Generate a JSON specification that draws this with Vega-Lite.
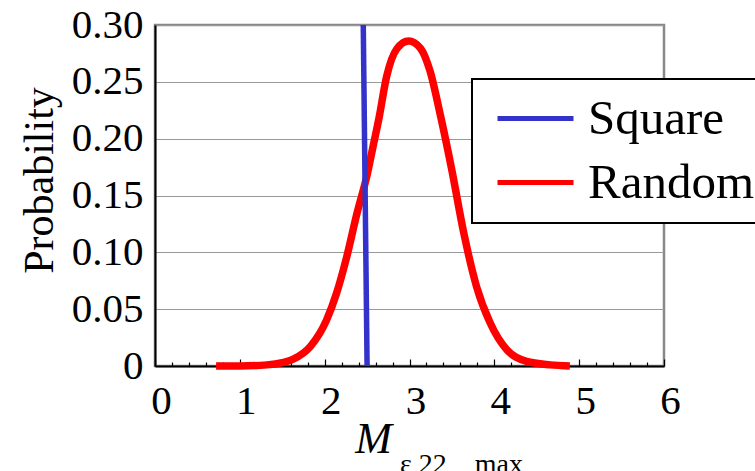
{
  "$schema": "https://vega.github.io/schema/vega-lite/v6.json",
  "width": 509,
  "height": 341,
  "autosize": {"type": "none"},
  "padding": {"left": 155, "top": 25, "right": 91, "bottom": 105},
  "background": "white",
  "title": {
    "text": "ε 22 _ max",
    "orient": "bottom",
    "anchor": "start",
    "frame": "group",
    "dx": 245,
    "offset": 12,
    "baseline": "alphabetic",
    "font": "Liberation Serif",
    "fontSize": 28,
    "fontWeight": "normal",
    "color": "black"
  },
  "data": {
    "values": [
      {"series": "Square", "x": 2.455, "p": 0.3},
      {"series": "Square", "x": 2.50, "p": 0.0},
      {"series": "Random", "x": 0.72, "p": 0.0},
      {"series": "Random", "x": 1.0, "p": 0.0},
      {"series": "Random", "x": 1.32, "p": 0.001},
      {"series": "Random", "x": 1.5, "p": 0.003},
      {"series": "Random", "x": 1.63, "p": 0.006},
      {"series": "Random", "x": 1.83, "p": 0.017},
      {"series": "Random", "x": 2.02, "p": 0.04},
      {"series": "Random", "x": 2.14, "p": 0.064},
      {"series": "Random", "x": 2.26, "p": 0.096},
      {"series": "Random", "x": 2.38, "p": 0.134},
      {"series": "Random", "x": 2.5, "p": 0.168},
      {"series": "Random", "x": 2.57, "p": 0.193},
      {"series": "Random", "x": 2.64, "p": 0.218},
      {"series": "Random", "x": 2.73, "p": 0.2545},
      {"series": "Random", "x": 2.85, "p": 0.279},
      {"series": "Random", "x": 2.99, "p": 0.286},
      {"series": "Random", "x": 3.13, "p": 0.2795},
      {"series": "Random", "x": 3.24, "p": 0.26},
      {"series": "Random", "x": 3.36, "p": 0.222},
      {"series": "Random", "x": 3.5, "p": 0.172},
      {"series": "Random", "x": 3.64, "p": 0.117},
      {"series": "Random", "x": 3.79, "p": 0.07},
      {"series": "Random", "x": 3.95, "p": 0.038},
      {"series": "Random", "x": 4.15, "p": 0.014},
      {"series": "Random", "x": 4.38, "p": 0.004},
      {"series": "Random", "x": 4.66, "p": 0.001},
      {"series": "Random", "x": 4.89, "p": 0.0}
    ]
  },
  "encoding": {
    "x": {
      "field": "x",
      "type": "quantitative",
      "scale": {"domain": [0, 6], "nice": false, "zero": false},
      "axis": {
        "title": "M",
        "titleFont": "Liberation Serif",
        "titleFontStyle": "italic",
        "titleFontWeight": "normal",
        "titleFontSize": 44,
        "titleColor": "black",
        "titleX": 218,
        "titleY": 86,
        "titleAlign": "center",
        "titleBaseline": "alphabetic",
        "values": [0, 0.2, 0.4, 0.6, 0.8, 1, 1.2, 1.4, 1.6, 1.8, 2, 2.2, 2.4, 2.6, 2.8, 3, 3.2, 3.4, 3.6, 3.8, 4, 4.2, 4.4, 4.6, 4.8, 5, 5.2, 5.4, 5.6, 5.8, 6],
        "labelExpr": "abs(datum.value - round(datum.value)) < 0.001 ? format(datum.value, 'd') : ''",
        "labelOverlap": false,
        "labelFont": "Liberation Serif",
        "labelFontSize": 41,
        "labelColor": "black",
        "labelPadding": 22,
        "labelOffset": 6,
        "labelFlush": false,
        "grid": false,
        "domainColor": "black",
        "domainWidth": 2,
        "tickColor": "black",
        "tickWidth": 1.2,
        "tickSize": {"condition": {"test": "abs(datum.value - round(datum.value)) < 0.001", "value": -7}, "value": -4}
      }
    },
    "y": {
      "field": "p",
      "type": "quantitative",
      "scale": {"domain": [0, 0.3], "nice": false},
      "axis": {
        "title": "Probability",
        "titleFont": "Liberation Serif",
        "titleFontWeight": "normal",
        "titleFontSize": 42,
        "titleColor": "black",
        "titleX": -116,
        "titleY": 155,
        "titleAngle": -90,
        "titleAlign": "center",
        "titleBaseline": "middle",
        "values": [0, 0.05, 0.1, 0.15, 0.2, 0.25, 0.3],
        "labelExpr": "datum.value === 0 ? '0' : format(datum.value, '.2f')",
        "labelFont": "Liberation Serif",
        "labelFontSize": 41,
        "labelColor": "black",
        "labelPadding": 12,
        "labelDy": -2,
        "labelFlush": false,
        "labelOverlap": false,
        "ticks": false,
        "grid": true,
        "gridColor": "#999999",
        "gridWidth": 1.2,
        "domainColor": "black",
        "domainWidth": 2
      }
    },
    "color": {
      "field": "series",
      "type": "nominal",
      "scale": {"domain": ["Square", "Random"], "range": ["#3333CC", "#FF0000"]},
      "legend": {
        "title": null,
        "orient": "none",
        "legendX": 317,
        "legendY": 54,
        "symbolType": "M-2,0H2",
        "symbolSize": 1444,
        "symbolStrokeWidth": 5,
        "symbolOffset": 24,
        "labelFont": "Liberation Serif",
        "labelFontSize": 49,
        "labelColor": "black",
        "labelOffset": 28,
        "labelLimit": 400,
        "padding": 15,
        "rowPadding": 14,
        "fillColor": "white",
        "strokeColor": "black"
      }
    }
  },
  "layer": [
    {
      "transform": [{"filter": "datum.series === 'Random'"}],
      "mark": {"type": "line", "strokeWidth": 7.5, "interpolate": "monotone", "strokeCap": "butt"}
    },
    {
      "transform": [{"filter": "datum.series === 'Square'"}],
      "mark": {"type": "line", "strokeWidth": 5.5, "clip": true}
    }
  ],
  "config": {
    "view": {"stroke": "#888888", "strokeWidth": 2.5},
    "legend": {"strokeWidth": 2}
  }
}
